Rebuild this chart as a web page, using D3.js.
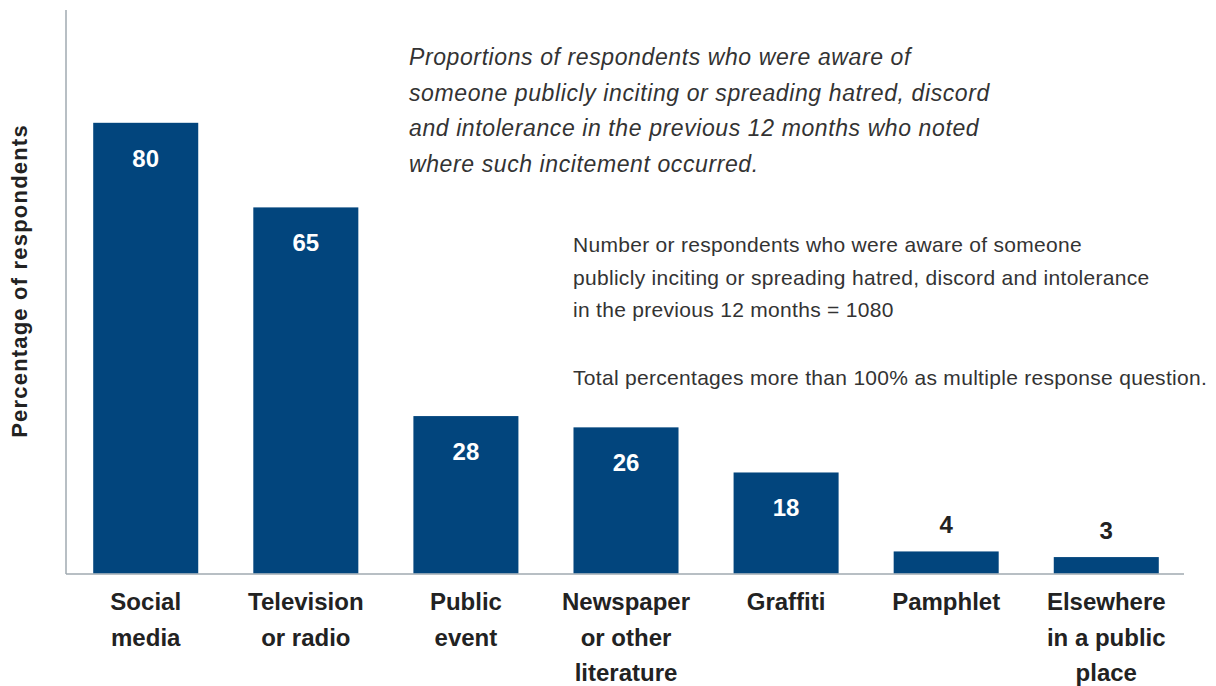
<!DOCTYPE html>
<html>
<head>
<meta charset="utf-8">
<script src="https://cdn.jsdelivr.net/npm/d3@7"></script>
<style>
  html, body { margin: 0; padding: 0; background: #fff; }
  svg { display: block; font-family: "Liberation Sans", Arial, Helvetica, sans-serif; }
</style>
</head>
<body>
<svg id="chart" width="1216" height="686"></svg>
<script>
// Where incitement was noticed (percentage of respondents)
const categories = [
  ["Social", "media"],
  ["Television", "or radio"],
  ["Public", "event"],
  ["Newspaper", "or other", "literature"],
  ["Graffiti"],
  ["Pamphlet"],
  ["Elsewhere", "in a public", "place"]
];
const values = [80, 65, 28, 26, 18, 4, 3];

const yAxisTitle = "Percentage of respondents";
const headingLines = [
  "Proportions of respondents who were aware of",
  "someone publicly inciting or spreading hatred, discord",
  "and intolerance in the previous 12 months who noted",
  "where such incitement occurred."
];
const noteLines = [
  "Number or respondents who were aware of someone",
  "publicly inciting or spreading hatred, discord and intolerance",
  "in the previous 12 months = 1080"
];
const footnote = "Total percentages more than 100% as multiple response question.";

const svg = d3.select("#chart");
const barColor = "#02457d";
const axisColor = "#a0aab0";
const textColor = "#222";

const plotLeft = 66, plotRight = 1184, plotTop = 10, baseline = 574;

const keys = categories.map((c, i) => i);
const x = d3.scaleBand()
  .domain(keys)
  .range([plotLeft, plotRight + 2])
  .paddingInner(0.344)
  .paddingOuter(0.17);

const y = d3.scaleLinear().domain([0, 100]).range([baseline, plotTop]);

// axes lines
svg.append("line")
  .attr("x1", plotLeft).attr("x2", plotLeft)
  .attr("y1", plotTop).attr("y2", baseline)
  .attr("stroke", axisColor).attr("stroke-width", 1.5);
svg.append("line")
  .attr("x1", plotLeft).attr("x2", plotRight)
  .attr("y1", baseline).attr("y2", baseline)
  .attr("stroke", axisColor).attr("stroke-width", 1.5);

// bars
svg.selectAll("rect.bar")
  .data(values)
  .join("rect")
  .attr("class", "bar")
  .attr("x", (d, i) => x(i))
  .attr("y", d => y(d))
  .attr("width", x.bandwidth())
  .attr("height", d => y(0) - y(d) - 0.75)
  .attr("fill", barColor);

// value labels: inside tall bars, above short ones
svg.selectAll("text.val")
  .data(values)
  .join("text")
  .attr("class", "val")
  .attr("x", (d, i) => x(i) + x.bandwidth() / 2)
  .attr("y", d => d >= 10 ? y(d) + 44 : y(d) - 18)
  .attr("text-anchor", "middle")
  .attr("font-size", 24)
  .attr("font-weight", "bold")
  .attr("fill", d => d >= 10 ? "#fff" : textColor)
  .text(d => d);

// category labels
const cat = svg.selectAll("text.cat")
  .data(categories)
  .join("text")
  .attr("class", "cat")
  .attr("text-anchor", "middle")
  .attr("font-size", 24)
  .attr("font-weight", "bold")
  .attr("fill", textColor);
cat.selectAll("tspan")
  .data((d, i) => d.map(t => ({ t, i })))
  .join("tspan")
  .attr("x", d => x(d.i) + x.bandwidth() / 2)
  .attr("y", (d, j) => 610 + j * 35.5)
  .text(d => d.t);

// y axis title
svg.append("text")
  .attr("transform", "translate(27,281) rotate(-90)")
  .attr("text-anchor", "middle")
  .attr("font-size", 22)
  .attr("font-weight", "bold")
  .attr("letter-spacing", 1.2)
  .attr("fill", textColor)
  .text(yAxisTitle);

// italic heading
svg.append("text")
  .attr("font-size", 23)
  .attr("font-style", "italic")
  .attr("letter-spacing", 0.6)
  .attr("fill", "#333")
  .selectAll("tspan")
  .data(headingLines)
  .join("tspan")
  .attr("x", 409)
  .attr("y", (d, i) => 65 + i * 35.5)
  .text(d => d);

// note
svg.append("text")
  .attr("font-size", 21)
  .attr("letter-spacing", 0.3)
  .attr("fill", "#333")
  .selectAll("tspan")
  .data(noteLines)
  .join("tspan")
  .attr("x", 573)
  .attr("y", (d, i) => 252 + i * 32.5)
  .text(d => d);

svg.append("text")
  .attr("font-size", 21)
  .attr("letter-spacing", 0.3)
  .attr("fill", "#333")
  .attr("x", 573)
  .attr("y", 385)
  .text(footnote);
</script>
</body>
</html>
